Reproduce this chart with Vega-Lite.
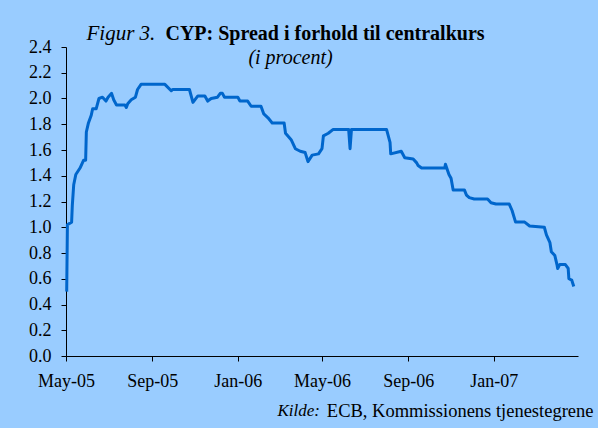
{
  "$schema": "https://vega.github.io/schema/vega-lite/v6.json",
  "width": 512,
  "height": 309,
  "autosize": {"type": "none"},
  "padding": {"left": 66, "top": 47, "right": 20, "bottom": 72},
  "background": "#99CCFF",
  "title": {
    "text": "CYP: Spread i forhold til centralkurs",
    "font": "Liberation Serif",
    "fontSize": 20,
    "fontWeight": "bold",
    "color": "#000000",
    "anchor": "middle",
    "dx": 3,
    "offset": -21.5
  },
  "data": {
    "values": [
      {"date": "2005-05-02", "v": 0.50},
      {"date": "2005-05-03", "v": 1.02},
      {"date": "2005-05-09", "v": 1.04},
      {"date": "2005-05-10", "v": 1.17},
      {"date": "2005-05-12", "v": 1.33},
      {"date": "2005-05-15", "v": 1.41},
      {"date": "2005-05-21", "v": 1.46},
      {"date": "2005-05-26", "v": 1.52},
      {"date": "2005-05-29", "v": 1.52},
      {"date": "2005-05-30", "v": 1.74},
      {"date": "2005-06-02", "v": 1.81},
      {"date": "2005-06-06", "v": 1.87},
      {"date": "2005-06-08", "v": 1.92},
      {"date": "2005-06-13", "v": 1.92},
      {"date": "2005-06-17", "v": 2.00},
      {"date": "2005-06-22", "v": 2.01},
      {"date": "2005-06-27", "v": 1.98},
      {"date": "2005-06-30", "v": 2.01},
      {"date": "2005-07-05", "v": 2.04},
      {"date": "2005-07-08", "v": 1.99},
      {"date": "2005-07-12", "v": 1.95},
      {"date": "2005-07-24", "v": 1.95},
      {"date": "2005-07-26", "v": 1.93},
      {"date": "2005-07-28", "v": 1.96},
      {"date": "2005-08-02", "v": 1.99},
      {"date": "2005-08-08", "v": 2.01},
      {"date": "2005-08-11", "v": 2.07},
      {"date": "2005-08-16", "v": 2.11},
      {"date": "2005-09-19", "v": 2.11},
      {"date": "2005-09-28", "v": 2.06},
      {"date": "2005-09-30", "v": 2.07},
      {"date": "2005-10-24", "v": 2.07},
      {"date": "2005-10-29", "v": 1.97},
      {"date": "2005-11-05", "v": 2.02},
      {"date": "2005-11-15", "v": 2.02},
      {"date": "2005-11-19", "v": 1.98},
      {"date": "2005-11-24", "v": 2.00},
      {"date": "2005-12-03", "v": 2.01},
      {"date": "2005-12-07", "v": 2.04},
      {"date": "2005-12-10", "v": 2.04},
      {"date": "2005-12-13", "v": 2.01},
      {"date": "2006-01-01", "v": 2.01},
      {"date": "2006-01-04", "v": 1.98},
      {"date": "2006-01-15", "v": 1.98},
      {"date": "2006-01-20", "v": 1.94},
      {"date": "2006-02-03", "v": 1.94},
      {"date": "2006-02-07", "v": 1.88},
      {"date": "2006-02-13", "v": 1.85},
      {"date": "2006-02-19", "v": 1.81},
      {"date": "2006-03-08", "v": 1.81},
      {"date": "2006-03-10", "v": 1.73},
      {"date": "2006-03-18", "v": 1.68},
      {"date": "2006-03-24", "v": 1.61},
      {"date": "2006-03-31", "v": 1.59},
      {"date": "2006-04-07", "v": 1.58},
      {"date": "2006-04-11", "v": 1.51},
      {"date": "2006-04-17", "v": 1.56},
      {"date": "2006-04-26", "v": 1.57},
      {"date": "2006-05-01", "v": 1.61},
      {"date": "2006-05-03", "v": 1.71},
      {"date": "2006-05-10", "v": 1.73},
      {"date": "2006-05-17", "v": 1.76},
      {"date": "2006-06-08", "v": 1.76},
      {"date": "2006-06-10", "v": 1.61},
      {"date": "2006-06-12", "v": 1.76},
      {"date": "2006-08-01", "v": 1.76},
      {"date": "2006-08-06", "v": 1.66},
      {"date": "2006-08-07", "v": 1.57},
      {"date": "2006-08-22", "v": 1.59},
      {"date": "2006-08-27", "v": 1.54},
      {"date": "2006-09-08", "v": 1.53},
      {"date": "2006-09-13", "v": 1.50},
      {"date": "2006-09-15", "v": 1.48},
      {"date": "2006-09-20", "v": 1.46},
      {"date": "2006-10-23", "v": 1.46},
      {"date": "2006-10-24", "v": 1.49},
      {"date": "2006-10-29", "v": 1.41},
      {"date": "2006-11-01", "v": 1.38},
      {"date": "2006-11-04", "v": 1.29},
      {"date": "2006-11-20", "v": 1.29},
      {"date": "2006-11-23", "v": 1.25},
      {"date": "2006-11-27", "v": 1.23},
      {"date": "2006-12-04", "v": 1.22},
      {"date": "2006-12-23", "v": 1.22},
      {"date": "2006-12-28", "v": 1.19},
      {"date": "2007-01-04", "v": 1.18},
      {"date": "2007-01-23", "v": 1.18},
      {"date": "2007-01-27", "v": 1.13},
      {"date": "2007-02-01", "v": 1.04},
      {"date": "2007-02-14", "v": 1.04},
      {"date": "2007-02-21", "v": 1.01},
      {"date": "2007-03-14", "v": 1.00},
      {"date": "2007-03-17", "v": 0.94},
      {"date": "2007-03-22", "v": 0.88},
      {"date": "2007-03-24", "v": 0.81},
      {"date": "2007-03-29", "v": 0.78},
      {"date": "2007-04-01", "v": 0.71},
      {"date": "2007-04-02", "v": 0.68},
      {"date": "2007-04-05", "v": 0.71},
      {"date": "2007-04-13", "v": 0.71},
      {"date": "2007-04-17", "v": 0.68},
      {"date": "2007-04-18", "v": 0.60},
      {"date": "2007-04-22", "v": 0.59},
      {"date": "2007-04-25", "v": 0.54}
    ]
  },
  "layer": [
    {
      "mark": {"type": "line", "color": "#0066CC", "strokeWidth": 3, "strokeJoin": "round"},
      "encoding": {
        "x": {
          "field": "date",
          "type": "temporal",
          "scale": {"domain": [{"year": 2005, "month": 5, "date": 1}, {"year": 2007, "month": 5, "date": 1}]},
          "axis": {
            "orient": "bottom",
            "values": [
              {"year": 2005, "month": 5, "date": 1},
              {"year": 2005, "month": 9, "date": 1},
              {"year": 2006, "month": 1, "date": 1},
              {"year": 2006, "month": 5, "date": 1},
              {"year": 2006, "month": 9, "date": 1},
              {"year": 2007, "month": 1, "date": 1}
            ],
            "format": "%b-%y",
            "labelFlush": false,
            "labelPadding": 11,
            "title": "ECB, Kommissionens tjenestegrene",
            "titleFontSize": 18.5,
            "titleX": 527,
            "titleY": 54,
            "titleAlign": "right",
            "titleBaseline": "middle",
            "titleFontWeight": "normal"
          }
        },
        "y": {
          "field": "v",
          "type": "quantitative",
          "scale": {"domain": [0, 2.4], "nice": false},
          "axis": {
            "orient": "left",
            "values": [0, 0.2, 0.4, 0.6, 0.8, 1.0, 1.2, 1.4, 1.6, 1.8, 2.0, 2.2, 2.4],
            "format": ".1f",
            "labelPadding": 10,
            "title": "(i procent)",
            "titleFontSize": 20,
            "titleAngle": 0,
            "titleX": 224,
            "titleY": 10,
            "titleAlign": "center",
            "titleBaseline": "middle",
            "titleFontStyle": "italic",
            "titleFontWeight": "normal"
          }
        }
      }
    },
    {
      "mark": {"type": "line", "opacity": 0},
      "encoding": {
        "x": {
          "field": "date",
          "type": "temporal",
          "axis": {
            "orient": "top",
            "domain": false,
            "ticks": false,
            "labels": false,
            "title": "Figur 3.",
            "titleFontSize": 21,
            "titleX": 20,
            "titleY": -14,
            "titleAlign": "left",
            "titleBaseline": "middle",
            "titleFontStyle": "italic",
            "titleFontWeight": "normal"
          }
        },
        "y": {
          "field": "v",
          "type": "quantitative",
          "axis": {
            "orient": "right",
            "domain": false,
            "ticks": false,
            "labels": false,
            "title": "Kilde:",
            "titleAngle": 0,
            "titleX": -301,
            "titleY": 363,
            "titleAlign": "left",
            "titleBaseline": "middle",
            "titleFontStyle": "italic",
            "titleFontWeight": "normal"
          }
        }
      }
    }
  ],
  "resolve": {"axis": {"x": "independent", "y": "independent"}},
  "config": {
    "view": {"stroke": null},
    "axis": {
      "grid": false,
      "labelFont": "Liberation Serif",
      "labelFontSize": 18,
      "labelColor": "#000000",
      "titleFont": "Liberation Serif",
      "titleFontSize": 17,
      "titleColor": "#000000",
      "domainColor": "#000000",
      "domainWidth": 1,
      "tickColor": "#000000",
      "tickSize": 5,
      "tickWidth": 1
    }
  }
}
